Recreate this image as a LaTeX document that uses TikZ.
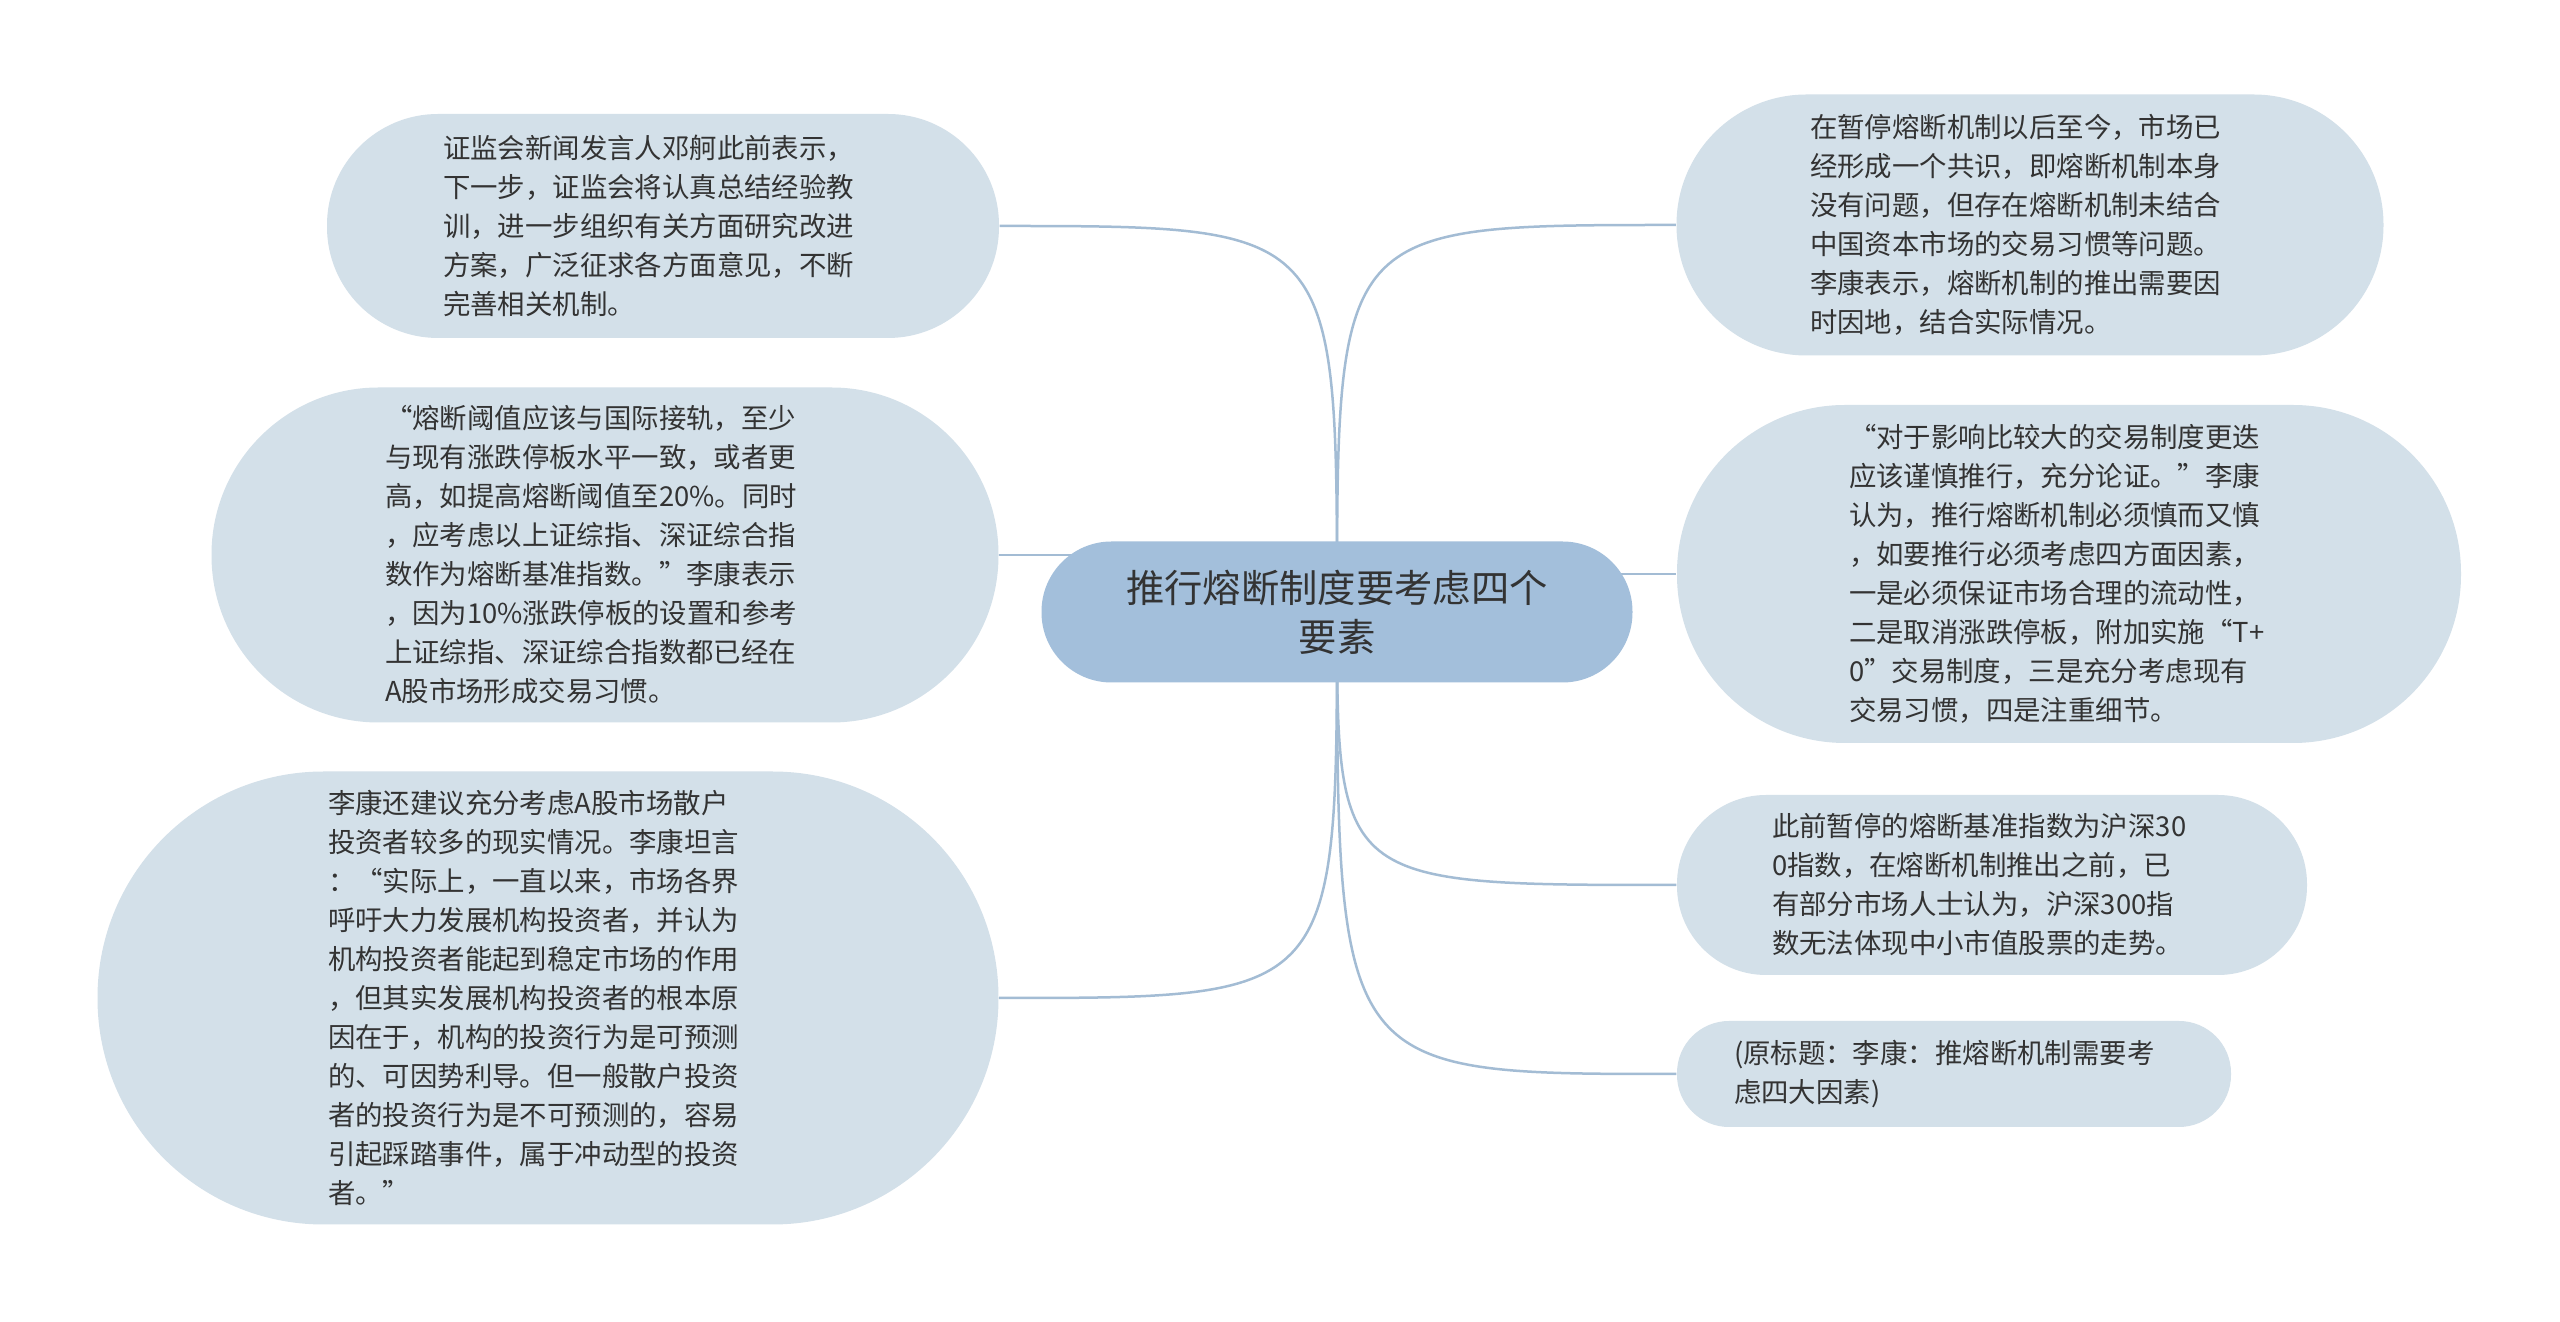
\documentclass[tikz,border=0pt]{standalone}
\usepackage{fontspec}
\setmainfont{Noto Sans CJK SC}
\usepackage{xcolor}
\usepackage{tikz}
\usetikzlibrary{backgrounds}
\definecolor{rootc}{HTML}{A3BFDB}
\definecolor{leafc}{HTML}{D3E0E9}
\definecolor{linkc}{HTML}{A3BCD4}
\definecolor{txtc}{HTML}{333333}
\tikzset{
  leaf/.style={fill=leafc,text=txtc,align=left,text width=44mm,inner sep=0pt,font=\fontsize{7.8pt}{11.1pt}\selectfont},
  root/.style={fill=rootc,text=txtc,align=center,inner sep=0pt,font=\fontsize{10.9pt}{13.9pt}\selectfont},
  link/.style={draw=linkc,line width=0.25mm}
}
\begin{document}
\begin{tikzpicture}[x=0.1mm,y=-0.1mm]
\useasboundingbox (0,0) rectangle (2560,1322);
\node[root,minimum width=59.1mm,minimum height=14.1mm,rounded corners=7mm] (rt) at (1337,612) {推行熔断制度要考虑四个\\要素};
\node[leaf,minimum width=67.2mm,minimum height=22.4mm,rounded corners=11.1mm] (l1) at (663,226) {证监会新闻发言人邓舸此前表示，\\下一步，证监会将认真总结经验教\\训，进一步组织有关方面研究改进\\方案，广泛征求各方面意见，不断\\完善相关机制。};
\node[leaf,minimum width=78.7mm,minimum height=33.5mm,rounded corners=16.7mm] (l2) at (605,555) {“熔断阈值应该与国际接轨，至少\\与现有涨跌停板水平一致，或者更\\高，如提高熔断阈值至20\%。同时\\，应考虑以上证综指、深证综合指\\数作为熔断基准指数。”李康表示\\，因为10\%涨跌停板的设置和参考\\上证综指、深证综合指数都已经在\\A股市场形成交易习惯。};
\node[leaf,minimum width=90.1mm,minimum height=45.3mm,rounded corners=22.6mm] (l3) at (548,998) {李康还建议充分考虑A股市场散户\\投资者较多的现实情况。李康坦言\\：“实际上，一直以来，市场各界\\呼吁大力发展机构投资者，并认为\\机构投资者能起到稳定市场的作用\\，但其实发展机构投资者的根本原\\因在于，机构的投资行为是可预测\\的、可因势利导。但一般散户投资\\者的投资行为是不可预测的，容易\\引起踩踏事件，属于冲动型的投资\\者。”};
\node[leaf,minimum width=70.7mm,minimum height=26.1mm,rounded corners=13mm] (r1) at (2030,225) {在暂停熔断机制以后至今，市场已\\经形成一个共识，即熔断机制本身\\没有问题，但存在熔断机制未结合\\中国资本市场的交易习惯等问题。\\李康表示，熔断机制的推出需要因\\时因地，结合实际情况。};
\node[leaf,minimum width=78.4mm,minimum height=33.8mm,rounded corners=16.8mm] (r2) at (2069,574) {“对于影响比较大的交易制度更迭\\应该谨慎推行，充分论证。”李康\\认为，推行熔断机制必须慎而又慎\\，如要推行必须考虑四方面因素，\\一是必须保证市场合理的流动性，\\二是取消涨跌停板，附加实施“T+\\0”交易制度，三是充分考虑现有\\交易习惯，四是注重细节。};
\node[leaf,minimum width=63mm,minimum height=18mm,rounded corners=8.9mm] (r3) at (1992,885) {此前暂停的熔断基准指数为沪深30\\0指数，在熔断机制推出之前，已\\有部分市场人士认为，沪深300指\\数无法体现中小市值股票的走势。};
\node[leaf,minimum width=55.4mm,minimum height=10.6mm,rounded corners=5.2mm] (r4) at (1954,1074) {(原标题：李康：推熔断机制需要考\\虑四大因素)};
\begin{scope}[on background layer]
\fill[white] (0,0) rectangle (2560,1322);
\draw[link] (rt.center) .. controls (rt.center |- l1.east) .. (l1.east);
\draw[link] (rt.center) .. controls (rt.center |- r1.west) .. (r1.west);
\draw[link] (rt.center |- l2.east) -- (l2.east);
\draw[link] (rt.center |- r2.west) -- (r2.west);
\draw[link] (rt.center) .. controls (rt.center |- l3.east) .. (l3.east);
\draw[link] (rt.center) .. controls (rt.center |- r3.west) .. (r3.west);
\draw[link] (rt.center) .. controls (rt.center |- r4.west) .. (r4.west);
\end{scope}
\end{tikzpicture}
\end{document}
